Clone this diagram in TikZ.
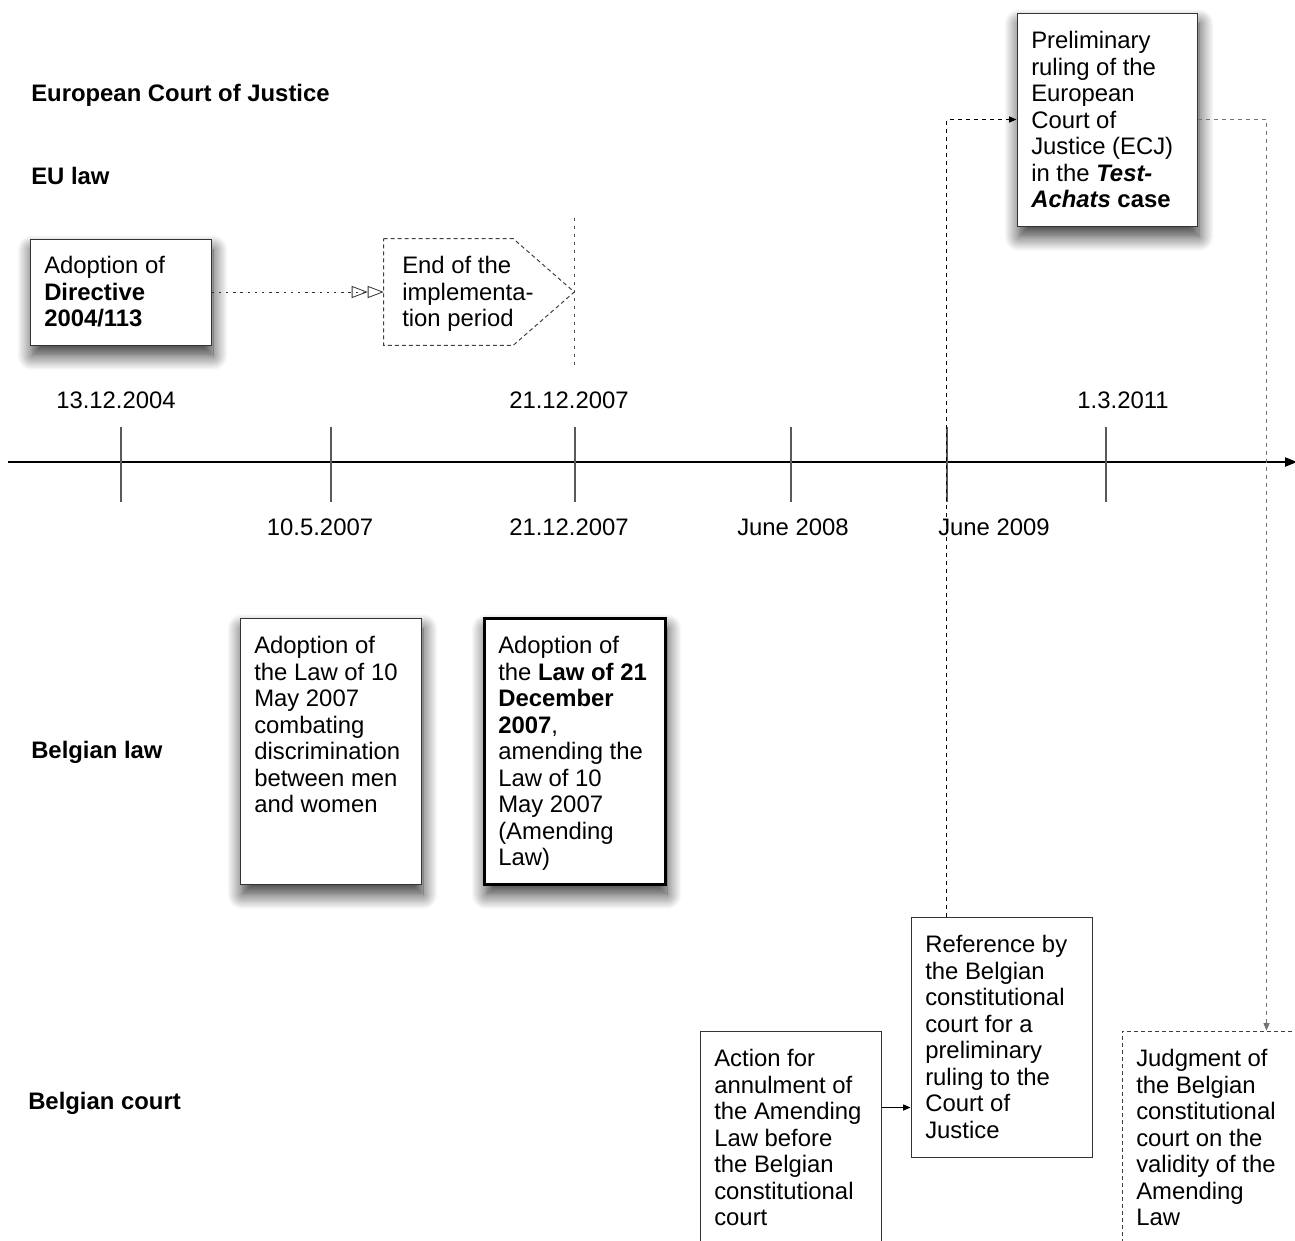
\documentclass[tikz,border=0pt]{standalone}
\usepackage{fontspec}
\setmainfont{Liberation Sans}
\usetikzlibrary{arrows.meta,shadows.blur,fit}
\begin{document}
\begin{tikzpicture}[x=0.75pt,y=-0.75pt,
  every node/.style={font=\fontsize{17.9}{19.9}\selectfont},
  box/.style={draw=black!80, line width=0.75pt, fill=white, inner sep=0},
  shad/.style={blur shadow={shadow xshift=1.5pt, shadow yshift=-8pt, shadow blur radius=11pt, shadow blur steps=16, shadow opacity=80}},
  dbox/.style={draw=black!75, line width=0.75pt, dash pattern=on 3pt off 2.25pt, inner sep=0},
  txt/.style={anchor=north west, inner sep=0, align=left},
  lbl/.style={anchor=base west, inner sep=0, font=\fontsize{17.9}{19.9}\selectfont\bfseries},
  datelbl/.style={anchor=base, inner sep=0},
  tickline/.style={draw=black!65, line width=0.9pt},
  conn/.style={line width=0.8pt, -{Triangle[length=5.5pt,width=4.5pt]}},
  dconn/.style={conn, dash pattern=on 3pt off 3pt},
]
\useasboundingbox (0,0) rectangle (1295,1240);

% row labels
\node[lbl] (l1) at (31,101) {European Court of Justice};
\node[lbl] (l2) at (31,184) {EU law};
\node[lbl] (l3) at (31,758) {Belgian law};
\node[lbl] (l4) at (28,1109) {Belgian court};

% axis and ticks
\draw[line width=0.9pt, -{Triangle[length=9pt,width=7pt]}] (8,462) -- (1297,462);
\foreach \t in {121,331,575,791,947,1106}
  \draw[tickline] (\t,427) -- (\t,502);
\draw[black!70, line width=0.75pt, dash pattern=on 2.25pt off 3.75pt] (574,218) -- (574,368);

% dates
\node[datelbl] (d1) at (116,408) {13.12.2004};
\node[datelbl] (d2) at (569,408) {21.12.2007};
\node[datelbl] (d3) at (1123,408) {1.3.2011};
\node[datelbl] (d4) at (320,535) {10.5.2007};
\node[datelbl] (d5) at (569,535) {21.12.2007};
\node[datelbl] (d6) at (793,535) {June 2008};
\node[datelbl] (d7) at (994,535) {June 2009};

% EU law boxes
\node[box, shad, fit={(30,239)(211,345)}] (dir) {};
\node[txt] (tdir) at (44,256) {Adoption of\\\textbf{Directive}\\\textbf{2004/113}};

\node[inner sep=0, fit={(384,239)(574,345)}] (endp) {};
\draw[dbox] (endp.north west) -- ([xshift=-61*0.75pt]endp.north east) -- (endp.east)
  -- ([xshift=-61*0.75pt]endp.south east) -- (endp.south west) -- cycle;
\node[txt] (tendp) at (402,256) {End of the\\implementa-\\tion period};

\draw[line width=0.75pt, black!80, dash pattern=on 1.8pt off 3.6pt,
  -{Triangle[open,length=12pt,width=9pt,line width=0.6pt]Triangle[open,length=12pt,width=9pt,line width=0.6pt]}]
  (dir.east) -- (endp.west);

% ECJ box
\node[box, shad, fit={(1017,13)(1197,226)}] (ecj) {};
\node[txt] (tecj) at (1031,31) {Preliminary\\ruling of the\\European\\Court of\\Justice (ECJ)\\in the \textbf{\textit{Test-}}\\\textbf{\textit{Achats}} \textbf{case}};

% Belgian law boxes
\node[box, shad, fit={(240,618)(421,884)}] (law10) {};
\node[txt] (tlaw10) at (254,636) {Adoption of\\the Law of 10\\May 2007\\combating\\discrimination\\between men\\and women};

\node[box, shad, draw=black, line width=2.25pt, fit={(484,618)(665,884)}] (law21) {};
\node[txt] (tlaw21) at (498,636) {Adoption of\\the \textbf{Law of 21}\\\textbf{December}\\\textbf{2007},\\amending the\\Law of 10\\May 2007\\(Amending\\Law)};

% Belgian court boxes
\node[box, fit={(911,917)(1092,1157)}] (ref) {};
\node[txt] (tref) at (925,935) {Reference by\\the Belgian\\constitutional\\court for a\\preliminary\\ruling to the\\Court of\\Justice};

\node[box, fit={(700,1031)(881,1262)}] (act) {};
\node[txt] (tact) at (714,1049) {Action for\\annulment of\\the Amending\\Law before\\the Belgian\\constitutional\\court};

\node[dbox, fit={(1122,1031)(1312,1262)}] (judg) {};
\node[txt] (tjudg) at (1136,1049) {Judgment of\\the Belgian\\constitutional\\court on the\\validity of the\\Amending\\Law};

% connectors
\draw[conn] ([yshift=-57.75pt]act.north east) -- ([yshift=-57.75pt]act.north east -| ref.west);
\draw[dconn] ([xshift=27pt]ref.north west) |- (ecj.west);
\draw[dconn, draw=black!55] (ecj.east) -| ([xshift=108.75pt]judg.north west);
\end{tikzpicture}
\end{document}
